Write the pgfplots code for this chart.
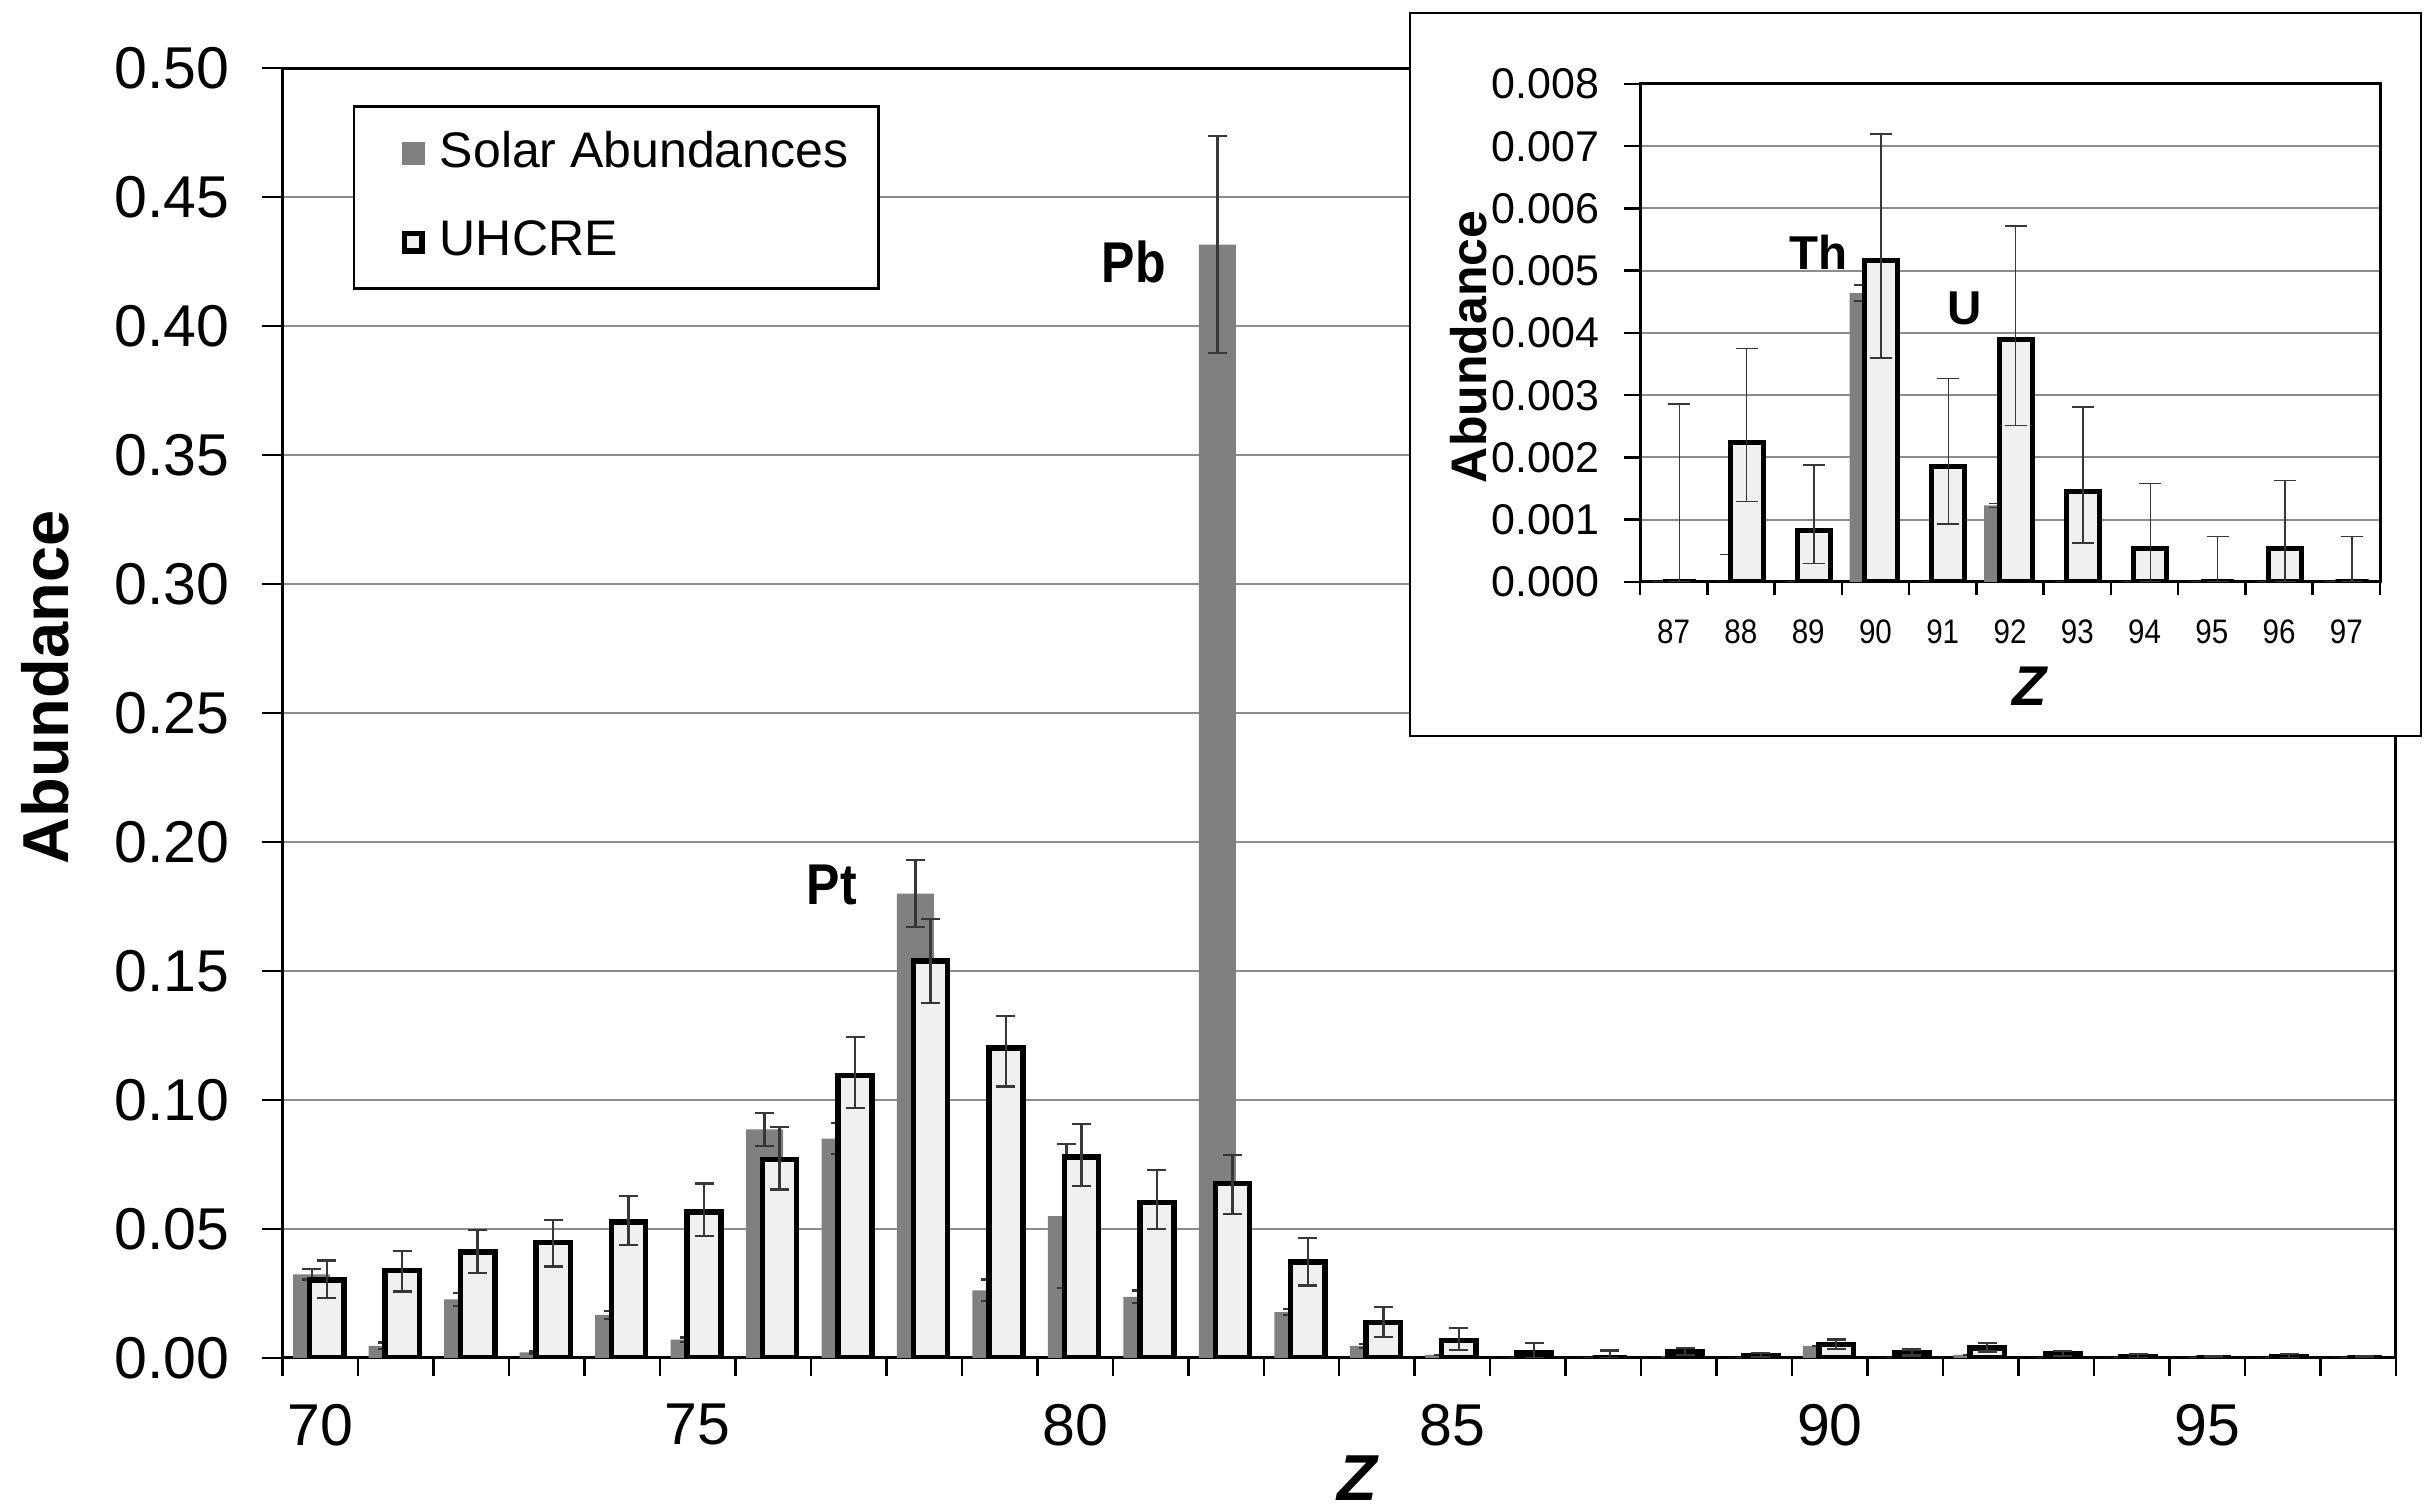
\documentclass[border=0pt]{standalone}
\usepackage{pgfplots}
\pgfplotsset{compat=1.18}
\usepackage{pgfplotstable}
\usepackage{fontspec}
\setmainfont{Liberation Sans}
\newfontfamily\narrowsans[FakeStretch=0.87]{Liberation Sans}

\definecolor{solargray}{RGB}{128,128,128}
\definecolor{uhcrefill}{RGB}{240,240,240}
\definecolor{gridgray}{RGB}{140,140,140}
\definecolor{errgray}{RGB}{55,55,55}

% Z, solar abundance (S) with error (Se), UHCRE abundance (U) with upper/lower errors
\pgfplotstableread{
Z   S        Se       U        Up       Um
70  0.0324   0.0020   0.0303   0.0075   0.0070
71  0.0047   0.0013   0.0339   0.0075   0.0081
72  0.0227   0.0025   0.0410   0.0087   0.0080
73  0.0022   0.0005   0.0447   0.0087   0.0092
74  0.0167   0.0016   0.0527   0.0101   0.0088
75  0.0071   0.0008   0.0566   0.0110   0.0092
76  0.0886   0.0065   0.0770   0.0124   0.0117
77  0.0850   0.0060   0.1094   0.0150   0.0126
78  0.1800   0.0130   0.1539   0.0163   0.0164
79  0.0262   0.0042   0.1202   0.0124   0.0150
80  0.0550   0.0280   0.0780   0.0128   0.0114
81  0.0237   0.0025   0.0603   0.0126   0.0104
82  0.4315   0.0420   0.0676   0.0111   0.0119
83  0.0178   0.0012   0.0373   0.0091   0.0092
84  0.0047   0.0008   0.0138   0.0060   0.0058
85  0.0012   0.0000   0.0068   0.0048   0.0036
86  0.0000   0.0000   0.0022   0.0035   0.0022
87  0.0000   0.0000   0.0000   0.00286  0.0000
88  0.0000   0.00044  0.00224  0.00151  0.00095
89  0.0000   0.0000   0.00082  0.00106  0.00052
90  0.00464  0.00013  0.00517  0.00203  0.00157
91  0.0000   0.0000   0.00186  0.00141  0.00093
92  0.00123  0.00003  0.00389  0.00183  0.00138
93  0.0000   0.0000   0.00146  0.00135  0.00083
94  0.0000   0.0000   0.00053  0.00105  0.00053
95  0.0000   0.0000   0.0000   0.00073  0.0000
96  0.0000   0.0000   0.00053  0.00110  0.00053
97  0.0000   0.0000   0.0000   0.00073  0.0000
}\abund

\pgfplotsset{
  abundaxis/.style={
    scale only axis,
    tick align=outside,
    xtick pos=left, ytick pos=left,
    major x tick style={draw=none},
    every tick/.style={black, line width=0.5pt},
    axis line style={line width=0.6pt},
    ymajorgrids,
    major grid style={draw=gridgray, line width=0.4pt},
    scaled y ticks=false,
    /pgf/number format/assume math mode=true,
    every tick label/.append style={inner sep=0pt},
  },
}

\begin{document}
\begin{tikzpicture}
\begin{axis}[
  abundaxis,
  name=main, at={(0pt,0pt)}, anchor=south west,
  width=422.7pt, height=258pt,
  xmin=69.5, xmax=97.5, ymin=0, ymax=0.5,
  xtick={70,75,80,85,90,95},
  minor xtick={69.5,70.5,...,97.5},
  ytick={0,0.05,0.10,0.15,0.20,0.25,0.30,0.35,0.40,0.45,0.50},
  major tick length=4pt, minor tick length=3.6pt,
  tick label style={font=\fontsize{11.8}{14}\selectfont},
  yticklabel style={/pgf/number format/.cd, fixed, fixed zerofill, precision=2},
  yticklabel shift=6.4pt,
  xticklabel shift=5pt,
  ylabel={Abundance},
  y label style={at={(axis description cs:-0.1124,0.5198)}, anchor=center,
    font=\fontsize{13}{15}\selectfont\bfseries},
  xlabel={\textit{Z}},
  x label style={at={(axis description cs:0.5089,-0.093)}, anchor=center,
    font=\fontsize{13}{15}\selectfont\bfseries},
  legend cell align=left,
  legend style={at={(axis description cs:0.0333,0.9713)}, anchor=north west,
    draw=black, line width=0.5pt, font=\fontsize{10}{12}\selectfont,
    inner xsep=6pt, inner ysep=5pt, row sep=9.2pt, column sep=3pt,
    nodes={inner sep=0pt}},
]
\addplot[ybar, bar width=0.49, bar shift=0pt, fill=solargray, draw=none,
  legend image code/.code={\path (0pt,0pt); \fill[solargray] (3pt,-2.3pt) rectangle (7.6pt,2.3pt);},
  error bars/.cd, y dir=both, y explicit,
  error bar style={draw=errgray, line width=0.45pt},
  error mark options={rotate=90, draw=errgray, line width=0.45pt, mark size=1.9pt}]
  table[x expr=\thisrow{Z}-0.114, y=S, y error=Se]{\abund};
\addlegendentry{Solar Abundances}
\addplot[ybar, bar width=0.455, bar shift=0pt, fill=uhcrefill, draw=black, line width=1.1pt,
  legend image code/.code={\path (0pt,0pt); \draw[black, line width=1.1pt, fill=uhcrefill] (3.55pt,-1.75pt) rectangle (7.05pt,1.75pt);},
  error bars/.cd, y dir=both, y explicit,
  error bar style={draw=errgray, line width=0.45pt},
  error mark options={rotate=90, draw=errgray, line width=0.45pt, mark size=1.9pt}]
  table[x expr=\thisrow{Z}+0.085, y=U, y error plus=Up, y error minus=Um]{\abund};
\addlegendentry{UHCRE}
\node[font=\narrowsans\bfseries\fontsize{11.5}{13}\selectfont] at (axis cs:80.78,0.4248) {Pb};
\node[font=\narrowsans\bfseries\fontsize{11.5}{13}\selectfont] at (axis cs:76.78,0.1833) {Pt};
\end{axis}

% inset frame
\draw[line width=0.5pt, fill=white] (225.5pt,124.4pt) rectangle (427.7pt,269pt);

\begin{axis}[
  abundaxis,
  at={(271.5pt,155.2pt)}, anchor=south west,
  width=148pt, height=99.6pt,
  xmin=86.5, xmax=97.5, ymin=0, ymax=0.008,
  xtick={87,88,89,90,91,92,93,94,95,96,97},
  minor xtick={86.5,87.5,...,97.5},
  ytick={0,0.001,0.002,0.003,0.004,0.005,0.006,0.007,0.008},
  major tick length=3.2pt, minor tick length=2.7pt,
  yticklabel style={font=\fontsize{8.6}{10}\selectfont,
    /pgf/number format/.cd, fixed, fixed zerofill, precision=3},
  xticklabel style={font=\narrowsans\fontsize{6.8}{8}\selectfont},
  yticklabel shift=4.8pt,
  xticklabel shift=4.1pt,
  ylabel={Abundance},
  y label style={at={(axis description cs:-0.231,0.472)}, anchor=center,
    font=\fontsize{10}{12}\selectfont\bfseries},
  xlabel={\textit{Z}},
  x label style={at={(axis description cs:0.527,-0.209)}, anchor=center,
    font=\fontsize{11.2}{13}\selectfont\bfseries},
]
\addplot[ybar, bar width=0.47, bar shift=0pt, fill=solargray, draw=none,
  error bars/.cd, y dir=both, y explicit,
  error bar style={draw=errgray, line width=0.3pt},
  error mark options={rotate=90, draw=errgray, line width=0.3pt, mark size=2.2pt}]
  table[x expr=\thisrow{Z}-0.15, y=S, y error=Se]{\abund};
\addplot[ybar, bar width=0.49, bar shift=0pt, fill=uhcrefill, draw=black, line width=1pt,
  error bars/.cd, y dir=both, y explicit,
  error bar style={draw=errgray, line width=0.3pt},
  error mark options={rotate=90, draw=errgray, line width=0.3pt, mark size=2.2pt}]
  table[x expr=\thisrow{Z}+0.085, y=U, y error plus=Up, y error minus=Um]{\abund};
\node[font=\bfseries\fontsize{9.5}{11}\selectfont] at (axis cs:89.15,0.0053) {Th};
\node[font=\bfseries\fontsize{9.5}{11}\selectfont] at (axis cs:91.32,0.00439) {U};
\end{axis}

\pgfresetboundingbox
\path (-56.5pt,-30.6pt) rectangle (428.9pt,271.6pt);
\end{tikzpicture}
\end{document}
